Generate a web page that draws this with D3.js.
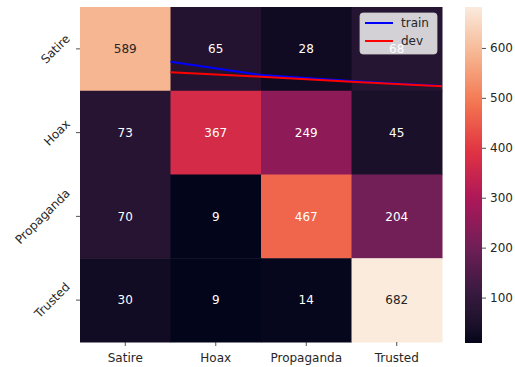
<!DOCTYPE html>
<html>
<head>
<meta charset="utf-8">
<script src="https://cdn.jsdelivr.net/npm/d3@7"></script>
<style>
  html, body { margin: 0; padding: 0; background: #fff; }
  svg { display: block; font-family: "DejaVu Sans", sans-serif; }
</style>
</head>
<body>
<svg id="chart" width="515" height="367"></svg>
<script>
// Confusion matrix: rows = true class, columns = predicted class
const categories = ["Satire", "Hoax", "Propaganda", "Trusted"];
const counts = [
  [589, 65, 28, 68],
  [73, 367, 249, 45],
  [70, 9, 467, 204],
  [30, 9, 14, 682]
];
// Training curves drawn over the matrix (x = epoch, y in cell units)
const epochs = [1, 2, 3, 4];
const trainCurve = [0.653, 0.812, 0.884, 0.943];
const devCurve = [0.780, 0.832, 0.892, 0.947];
const colorbarTicks = [100, 200, 300, 400, 500, 600];

const FS = 12;

// Rocket-like colormap stops
const rocketStops = [
  [0.000, "#03051a"], [0.050, "#1a1029"], [0.143, "#35193e"],
  [0.286, "#701f57"], [0.429, "#ad1759"], [0.571, "#e13342"],
  [0.714, "#f37651"], [0.857, "#f6b48f"], [1.000, "#faebdd"]
];
const rocket = d3.scaleLinear()
  .domain(rocketStops.map(d => d[0]))
  .range(rocketStops.map(d => d[1]))
  .interpolate(d3.interpolateRgb)
  .clamp(true);

const flat = counts.flat();
const vmin = d3.min(flat), vmax = d3.max(flat);
const norm = d3.scaleLinear().domain([vmin, vmax]).range([0, 1]);
const colorOf = v => rocket(norm(v));

const svg = d3.select("#chart");
const L = 80, R = 442, T = 7, B = 342;

const x = d3.scaleBand().domain(categories).range([L, R]);
const y = d3.scaleBand().domain(categories).range([T, B]);
const xc = d3.scaleLinear().domain([0, 4]).range([L, R]);
const yc = d3.scaleLinear().domain([0, 4]).range([T, B]);

const cells = [];
counts.forEach((row, i) => row.forEach((v, j) => cells.push({ r: categories[i], c: categories[j], v })));

svg.append("g").selectAll("rect").data(cells).join("rect")
  .attr("x", d => x(d.c)).attr("y", d => y(d.r))
  .attr("width", x.bandwidth() + 0.5).attr("height", y.bandwidth() + 0.5)
  .attr("fill", d => colorOf(d.v));

// Curves
const line = d3.line().x((d, i) => xc(epochs[i])).y(d => yc(d));
svg.append("path").datum(trainCurve).attr("d", line)
  .attr("fill", "none").attr("stroke", "#0000ff").attr("stroke-width", 2);
svg.append("path").datum(devCurve).attr("d", line)
  .attr("fill", "none").attr("stroke", "#ff0000").attr("stroke-width", 2);

// Legend
const lg = svg.append("g").attr("transform", "translate(360,13)");
lg.append("rect").attr("width", 77).attr("height", 41).attr("rx", 3)
  .attr("fill", "rgba(255,255,255,0.8)").attr("stroke", "rgba(204,204,204,0.8)");
[["train", "#0000ff", 10], ["dev", "#ff0000", 28]].forEach(([name, col, yy]) => {
  lg.append("line").attr("x1", 5).attr("x2", 33).attr("y1", yy).attr("y2", yy)
    .attr("stroke", col).attr("stroke-width", 2);
  lg.append("text").attr("x", 41).attr("y", yy).attr("dy", "0.35em")
    .attr("font-size", FS).attr("fill", "#262626").text(name);
});

// Cell annotations
function luminance(c) {
  const rgb = d3.rgb(c);
  const lin = v => { v /= 255; return v <= 0.03928 ? v / 12.92 : Math.pow((v + 0.055) / 1.055, 2.4); };
  return 0.2126 * lin(rgb.r) + 0.7152 * lin(rgb.g) + 0.0722 * lin(rgb.b);
}
svg.append("g").selectAll("text").data(cells).join("text")
  .attr("x", d => x(d.c) + x.bandwidth() / 2)
  .attr("y", d => y(d.r) + y.bandwidth() / 2)
  .attr("dy", "0.35em").attr("text-anchor", "middle").attr("font-size", FS)
  .attr("fill", d => luminance(colorOf(d.v)) > 0.408 ? "#262626" : "#ffffff")
  .text(d => d.v);

// X axis
const xAxis = svg.append("g");
categories.forEach(c => {
  const cx = x(c) + x.bandwidth() / 2;
  xAxis.append("line").attr("x1", cx).attr("x2", cx).attr("y1", B).attr("y2", B + 4)
    .attr("stroke", "#262626").attr("stroke-width", 0.8);
  xAxis.append("text").attr("x", cx).attr("y", B + 19.5).attr("text-anchor", "middle")
    .attr("font-size", FS).attr("fill", "#262626").text(c);
});

// Y axis with rotated labels
const yAxis = svg.append("g");
categories.forEach(c => {
  const cy = y(c) + y.bandwidth() / 2;
  yAxis.append("line").attr("x1", L - 4).attr("x2", L).attr("y1", cy).attr("y2", cy)
    .attr("stroke", "#262626").attr("stroke-width", 0.8);
  const t = yAxis.append("text").attr("font-size", FS).attr("fill", "#262626")
    .attr("text-anchor", "middle").attr("dy", "0.35em").text(c);
  const len = t.node().getComputedTextLength();
  const w = (len + FS) / Math.SQRT2;
  const px = L - 8 - w / 2;
  t.attr("transform", `translate(${px},${cy}) rotate(-45)`);
});

// Colorbar
const cbX = 465, cbW = 17, cbT = 7, cbB = 343;
const defs = svg.append("defs");
const grad = defs.append("linearGradient").attr("id", "cbgrad")
  .attr("x1", 0).attr("y1", 1).attr("x2", 0).attr("y2", 0);
d3.range(0, 1.0001, 0.02).forEach(t => {
  grad.append("stop").attr("offset", t).attr("stop-color", rocket(t));
});
svg.append("rect").attr("x", cbX).attr("y", cbT).attr("width", cbW).attr("height", cbB - cbT)
  .attr("fill", "url(#cbgrad)");
const cbScale = d3.scaleLinear().domain([vmin, vmax]).range([cbB, cbT]);
const cbAxis = svg.append("g").attr("transform", `translate(${cbX + cbW},0)`)
  .call(d3.axisRight(cbScale).tickValues(colorbarTicks).tickSize(4).tickPadding(4));
cbAxis.select(".domain").remove();
cbAxis.selectAll("line").attr("stroke", "#262626").attr("stroke-width", 0.8);
cbAxis.selectAll("text").attr("font-size", FS).attr("fill", "#262626")
  .attr("font-family", "DejaVu Sans, sans-serif");
</script>
</body>
</html>
